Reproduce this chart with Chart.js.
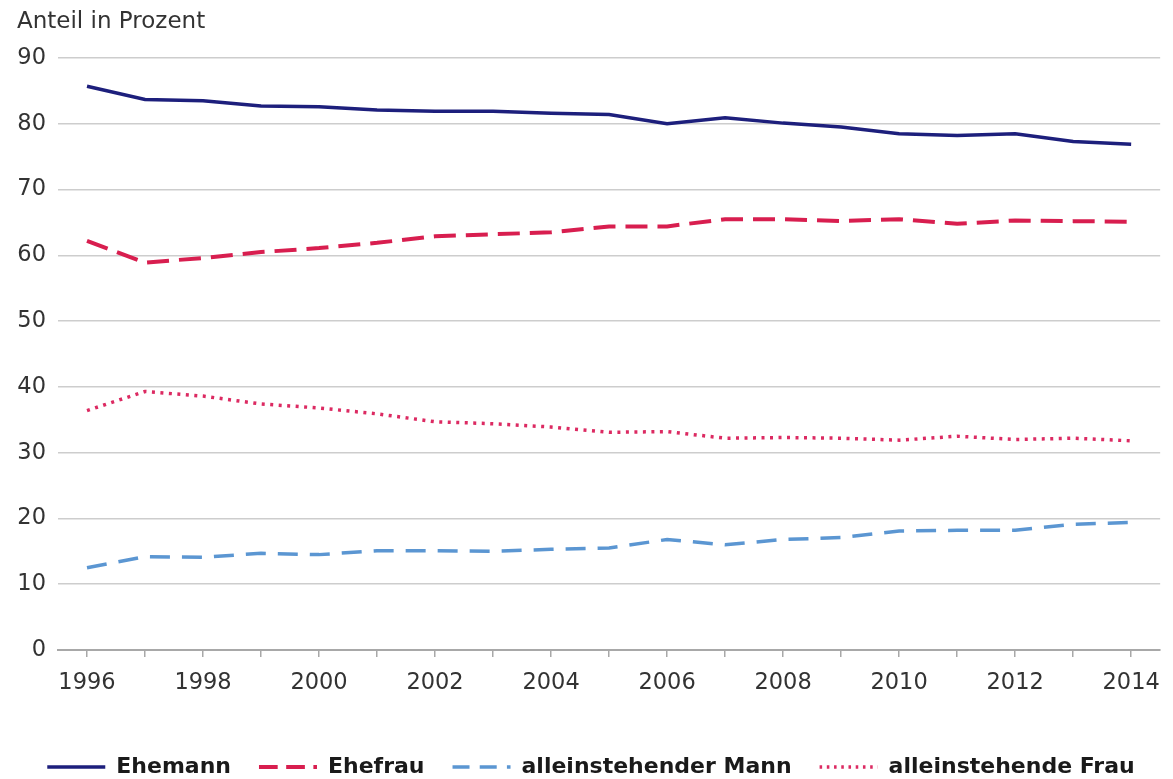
<!DOCTYPE html>
<html>
<head>
<meta charset="utf-8">
<script src="https://cdn.jsdelivr.net/npm/chart.js@4.4.1/dist/chart.umd.min.js"></script>
<style>
  html, body { margin: 0; padding: 0; background: #ffffff; }
  #wrap { width: 1173px; height: 779px; position: relative; }
</style>
</head>
<body>
<div id="wrap"><canvas id="c" width="1173" height="779"></canvas></div>
<script>
const years = ['1996','1997','1998','1999','2000','2001','2002','2003','2004','2005','2006','2007','2008','2009','2010','2011','2012','2013','2014'];
const ehemann = [85.7, 83.7, 83.5, 82.7, 82.6, 82.1, 81.9, 81.9, 81.6, 81.4, 80.0, 80.9, 80.1, 79.5, 78.5, 78.2, 78.5, 77.3, 76.9];
const ehefrau = [62.2, 58.9, 59.6, 60.5, 61.1, 61.9, 62.9, 63.2, 63.5, 64.4, 64.4, 65.5, 65.5, 65.2, 65.5, 64.8, 65.3, 65.2, 65.1];
const alleinMann = [12.5, 14.2, 14.1, 14.7, 14.5, 15.1, 15.1, 15.0, 15.3, 15.5, 16.8, 16.0, 16.8, 17.1, 18.1, 18.2, 18.2, 19.1, 19.4];
const alleinFrau = [36.4, 39.3, 38.6, 37.4, 36.8, 35.9, 34.7, 34.4, 33.9, 33.1, 33.2, 32.2, 32.3, 32.2, 31.9, 32.5, 32.0, 32.2, 31.8];
const seriesNames = ['Ehemann', 'Ehefrau', 'alleinstehender Mann', 'alleinstehende Frau'];
const yTicks = [0, 10, 20, 30, 40, 50, 60, 70, 80, 90];
const yTitle = 'Anteil in Prozent';

Chart.defaults.font.family = "'DejaVu Sans', Verdana, sans-serif";
Chart.defaults.color = '#3a3a3a';

new Chart(document.getElementById('c'), {
  type: 'line',
  data: {
    labels: years,
    datasets: [
      { label: seriesNames[0], data: ehemann, borderColor: '#1d1f7c', borderWidth: 3.5, pointRadius: 0, tension: 0, fill: false },
      { label: seriesNames[1], data: ehefrau, borderColor: '#d81e4f', borderWidth: 4, borderDash: [22, 10], pointRadius: 0, tension: 0, fill: false },
      { label: seriesNames[2], data: alleinMann, borderColor: '#5b96d2', borderWidth: 3.5, borderDash: [20, 12], pointRadius: 0, tension: 0, fill: false },
      { label: seriesNames[3], data: alleinFrau, borderColor: '#dc2a62', borderWidth: 3.5, borderDash: [3, 5.5], pointRadius: 0, tension: 0, fill: false }
    ]
  },
  options: {
    responsive: false,
    animation: false,
    layout: { padding: { left: 17, right: 8, top: 0, bottom: 0 } },
    plugins: {
      title: {
        display: true,
        text: yTitle,
        align: 'start',
        color: '#333333',
        font: { size: 23, weight: 'normal' },
        padding: { top: 8, bottom: 22.4 }
      },
      legend: {
        display: true,
        position: 'bottom',
        maxHeight: 51,
        labels: {
          usePointStyle: true,
          pointStyle: 'line',
          pointStyleWidth: 58,
          padding: 28,
          color: '#1a1a1a',
          font: { size: 22, weight: 'bold' },
          generateLabels: (chart) => chart.data.datasets.map((ds, i) => ({
            text: ds.label,
            datasetIndex: i,
            hidden: !chart.isDatasetVisible(i),
            fillStyle: ds.borderColor,
            strokeStyle: ds.borderColor,
            fontColor: '#1a1a1a',
            lineWidth: ds.borderWidth,
            lineDash: ds.borderDash ? ds.borderDash.map(v => v * 0.85) : [],
            lineCap: 'butt',
            pointStyle: 'line'
          }))
        }
      },
      tooltip: { enabled: false }
    },
    scales: {
      x: {
        type: 'category',
        offset: true,
        afterFit: (s) => { s.height = 78; },
        grid: { display: true, drawOnChartArea: false, offset: false, tickLength: 7, color: '#a8a8a8', lineWidth: 1.5 },
        border: { display: true, color: '#a8a8a8', width: 2 },
        ticks: {
          autoSkip: false,
          maxRotation: 0,
          padding: 13,
          color: '#333333',
          font: { size: 22.5 },
          callback: function (value, index) { return index % 2 === 0 ? this.getLabelForValue(value) : ''; }
        }
      },
      y: {
        min: 0,
        max: 90,
        afterFit: (s) => { s.width = 41; },
        afterBuildTicks: (s) => { s.ticks = yTicks.map(v => ({ value: v })); },
        grid: { color: '#cdcdcd', lineWidth: 1.5, drawTicks: false },
        border: { display: false },
        ticks: { padding: 12, color: '#333333', font: { size: 22.5 } }
      }
    }
  }
});
</script>
</body>
</html>
